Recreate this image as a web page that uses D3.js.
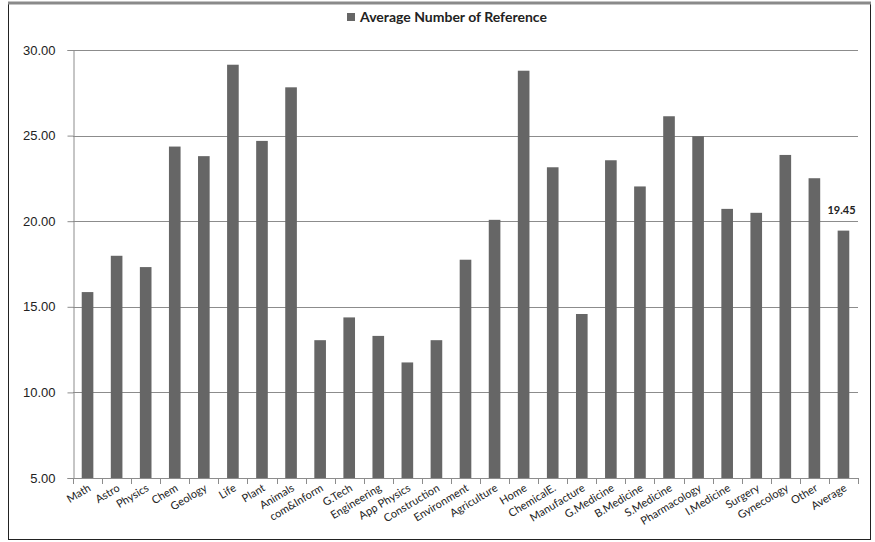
<!DOCTYPE html>
<html>
<head>
<meta charset="utf-8">
<script src="https://cdn.jsdelivr.net/npm/d3@7"></script>
<style>
  html, body { margin: 0; padding: 0; background: #fff; }
  svg { display: block; font-family: Lato, "Open Sans", "DejaVu Sans", sans-serif; }
</style>
</head>
<body>
<svg id="chart" width="875" height="542"></svg>
<script>
// Subject areas shown along the x axis
const categories = [
  "Math", "Astro", "Physics", "Chem", "Geology", "Life", "Plant", "Animals",
  "com&Inform", "G.Tech", "Engineering", "App Physics", "Construction",
  "Environment", "Agriculture", "Home", "ChemicalE.", "Manufacture",
  "G.Medicine", "B.Medicine", "S.Medicine", "Pharmacology", "I.Medicine",
  "Surgery", "Gynecology", "Other", "Average"
];

// Average number of references per category
const avgReferences = [
  15.86, 17.98, 17.32, 24.36, 23.80, 29.14, 24.69, 27.82,
  13.05, 14.38, 13.30, 11.75, 13.05,
  17.75, 20.08, 28.79, 23.15, 14.58,
  23.56, 22.03, 26.13, 24.96, 20.72,
  20.49, 23.87, 22.51, 19.45
];

const seriesName = "Average Number of Reference";
const yTicks = [5, 10, 15, 20, 25, 30];
const labelledCategory = "Average";

const svg = d3.select("#chart");
const plot = { left: 73, right: 858, top: 50, bottom: 478 };

const x = d3.scaleBand()
  .domain(categories)
  .range([plot.left, plot.right])
  .paddingInner(0.6)
  .paddingOuter(0.3);

const y = d3.scaleLinear()
  .domain([5, 30])
  .range([plot.bottom, plot.top]);

// outer frame
svg.append("rect")
  .attr("x", 8.5).attr("y", 3.5)
  .attr("width", 862).attr("height", 536)
  .attr("fill", "none").attr("stroke", "#222").attr("stroke-width", 1);
svg.append("line")
  .attr("x1", 8).attr("x2", 871).attr("y1", 3).attr("y2", 3)
  .attr("stroke", "#8a8a8a").attr("stroke-width", 3);

// horizontal gridlines
svg.append("g")
  .selectAll("line")
  .data(yTicks)
  .join("line")
  .attr("x1", plot.left).attr("x2", plot.right)
  .attr("y1", d => Math.round(y(d)) + 0.5)
  .attr("y2", d => Math.round(y(d)) + 0.5)
  .attr("stroke", "#8c8c8c").attr("stroke-width", 1);

// y axis
const yAxis = svg.append("g")
  .attr("transform", `translate(${plot.left + 0.5},0)`)
  .call(d3.axisLeft(y).tickValues(yTicks).tickFormat(d3.format(".2f")).tickSize(6).tickPadding(12));
yAxis.select(".domain").attr("stroke", "#8c8c8c");
yAxis.selectAll(".tick line").attr("stroke", "#8c8c8c");
yAxis.selectAll(".tick text")
  .attr("fill", "#222").style("font-size", "13px");

// bars
svg.append("g")
  .selectAll("rect")
  .data(categories.map((c, i) => ({ c, v: avgReferences[i] })))
  .join("rect")
  .attr("x", d => x(d.c))
  .attr("y", d => y(d.v))
  .attr("width", x.bandwidth())
  .attr("height", d => y(5) - y(d.v))
  .attr("fill", "#666666");

// x axis: ticks at the category boundaries
const step = x.step();
const boundaries = d3.range(categories.length + 1).map(i => plot.left + i * step);
const xAxis = svg.append("g");
xAxis.append("line")
  .attr("x1", plot.left).attr("x2", plot.right)
  .attr("y1", plot.bottom + 0.5).attr("y2", plot.bottom + 0.5)
  .attr("stroke", "#8c8c8c");
xAxis.selectAll("line.tick")
  .data(boundaries)
  .join("line")
  .attr("class", "tick")
  .attr("x1", d => Math.round(d) + 0.5).attr("x2", d => Math.round(d) + 0.5)
  .attr("y1", plot.bottom).attr("y2", plot.bottom + 6)
  .attr("stroke", "#8c8c8c");
xAxis.selectAll("text")
  .data(categories)
  .join("text")
  .attr("transform", d => `translate(${x(d) + x.bandwidth() / 2 + 4},${plot.bottom + 12}) rotate(-31)`)
  .attr("text-anchor", "end")
  .attr("fill", "#222")
  .style("font-size", "11px")
  .text(d => d);

// value label on the summary bar
const li = categories.indexOf(labelledCategory);
svg.append("text")
  .attr("x", x(labelledCategory) + x.bandwidth() / 2 - 2)
  .attr("y", y(avgReferences[li]) - 17)
  .attr("text-anchor", "middle")
  .attr("fill", "#222")
  .style("font-size", "11px")
  .style("font-weight", "bold")
  .text(d3.format(".2f")(avgReferences[li]));

// legend
const legend = svg.append("g").attr("transform", "translate(347,13)");
legend.append("rect")
  .attr("width", 8).attr("height", 8)
  .attr("fill", "#666666");
legend.append("text")
  .attr("x", 13).attr("y", 9)
  .attr("fill", "#222")
  .style("font-size", "14px")
  .style("font-weight", "bold")
  .text(seriesName);
</script>
</body>
</html>
